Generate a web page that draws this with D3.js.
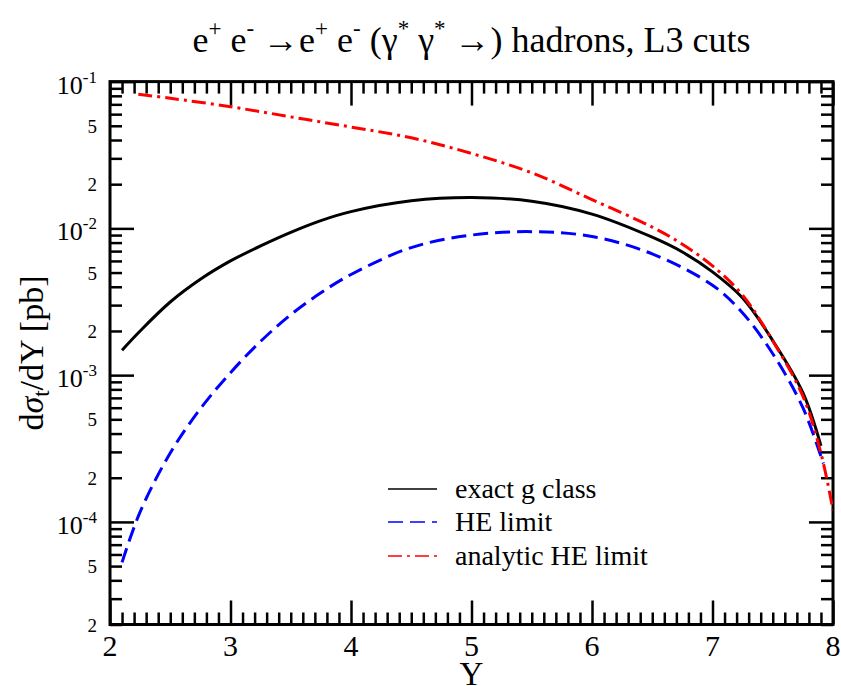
<!DOCTYPE html>
<html lang="en">
<head>
<meta charset="utf-8">
<title>dsigma/dY</title>
<script src="https://cdn.jsdelivr.net/npm/d3@7"></script>
<style>
  body { margin: 0; background: white; }
  svg text { font-family: "Liberation Serif", "Times New Roman", serif; fill: black; }
  .frame { fill: none; stroke: black; stroke-width: 3; }
  .axis path { display: none; }
  .axis line { stroke: black; stroke-width: 2.5; }
  .curve { fill: none; stroke-width: 3; }
</style>
</head>
<body>
<script>
// x grid (Y) and curves
var yExactX = [2.1, 2.25, 2.5, 2.75, 3.0, 3.25, 3.5, 3.75, 4.0, 4.5, 5.0, 5.5, 6.0, 6.5, 6.75, 7.0, 7.25, 7.5, 7.75, 7.9];
var exactVals = [1.48e-3, 2.0e-3, 3.15e-3, 4.5e-3, 6.0e-3, 7.6e-3, 9.4e-3, 1.13e-2, 1.30e-2, 1.54e-2, 1.62e-2, 1.53e-2, 1.25e-2, 8.7e-3, 6.9e-3, 5.05e-3, 3.35e-3, 1.72e-3, 7.6e-4, 3.3e-4];

var heX = [2.1, 2.25, 2.5, 2.75, 3.0, 3.25, 3.5, 3.75, 4.0, 4.5, 5.0, 5.5, 6.0, 6.5, 7.0, 7.25, 7.5, 7.75, 7.92];
var heVals = [5.3e-5, 1.17e-4, 2.95e-4, 5.9e-4, 1.04e-3, 1.7e-3, 2.58e-3, 3.64e-3, 4.85e-3, 7.4e-3, 9.0e-3, 9.5e-3, 8.8e-3, 6.7e-3, 4.1e-3, 2.65e-3, 1.4e-3, 6.0e-4, 2.5e-4];

var anX = [2.235, 2.5, 3.0, 3.5, 4.0, 4.5, 5.0, 5.5, 6.0, 6.5, 6.75, 7.0, 7.25, 7.5, 7.75, 7.9, 8.0];
var anVals = [8.2e-2, 7.7e-2, 6.74e-2, 5.75e-2, 4.9e-2, 4.14e-2, 3.24e-2, 2.39e-2, 1.57e-2, 1.02e-2, 7.8e-3, 5.55e-3, 3.5e-3, 1.71e-3, 7.2e-4, 2.94e-4, 1.2e-4];

var xTicks = [2, 3, 4, 5, 6, 7, 8];
var yDecades = [1e-1, 1e-2, 1e-3, 1e-4];
var yDecadeExp = ["-1", "-2", "-3", "-4"];
var yMinorLabeled = [5e-2, 2e-2, 5e-3, 2e-3, 5e-4, 2e-4, 5e-5, 2e-5];
var legendNames = ["exact g class", "HE limit", "analytic HE limit"];

var W = 841, H = 686;
var mL = 110, mR = 833, mT = 81.6, mB = 624.5;

var svg = d3.select("body").append("svg").attr("width", W).attr("height", H);

var x = d3.scaleLinear().domain([2, 8]).range([mL, mR]);
var y = d3.scaleLog().domain([2e-5, 1e-1]).range([mB, mT]);

// minor tick values
var xMinor = d3.range(20, 81).map(function(d) { return d / 10; }).filter(function(d) { return xTicks.indexOf(d) < 0; });
var yMinor = [];
[1e-5, 1e-4, 1e-3, 1e-2].forEach(function(dec) {
  for (var k = 2; k <= 9; k++) {
    var v = +(k * dec).toPrecision(3);
    if (v >= 2e-5 && v < 1e-1) yMinor.push(v);
  }
});

function addAxis(axis, tr) {
  svg.append("g").attr("class", "axis").attr("transform", tr).call(axis)
    .selectAll("text").remove();
}
// bottom / top
addAxis(d3.axisBottom(x).tickValues(xTicks).tickSize(-24).tickFormat(""), "translate(0," + mB + ")");
addAxis(d3.axisBottom(x).tickValues(xMinor).tickSize(-12).tickFormat(""), "translate(0," + mB + ")");
addAxis(d3.axisTop(x).tickValues(xTicks).tickSize(-24).tickFormat(""), "translate(0," + mT + ")");
addAxis(d3.axisTop(x).tickValues(xMinor).tickSize(-12).tickFormat(""), "translate(0," + mT + ")");
// left / right
addAxis(d3.axisLeft(y).tickValues(yDecades).tickSize(-24).tickFormat(""), "translate(" + mL + ",0)");
addAxis(d3.axisLeft(y).tickValues(yMinor).tickSize(-12).tickFormat(""), "translate(" + mL + ",0)");
addAxis(d3.axisRight(y).tickValues(yDecades).tickSize(-24).tickFormat(""), "translate(" + mR + ",0)");
addAxis(d3.axisRight(y).tickValues(yMinor).tickSize(-12).tickFormat(""), "translate(" + mR + ",0)");

// x tick labels
svg.selectAll(".xlab").data(xTicks).enter().append("text")
  .attr("x", function(d) { return x(d); })
  .attr("y", 656)
  .attr("text-anchor", "middle")
  .attr("font-size", 30)
  .text(function(d) { return d; });

// y decade labels 10^n
var dl = svg.selectAll(".ylab").data(yDecades).enter().append("text")
  .attr("x", 97)
  .attr("y", function(d) { return y(d) + 12; })
  .attr("text-anchor", "end")
  .attr("font-size", 26);
dl.append("tspan").text("10");
dl.append("tspan").attr("font-size", 17).attr("dy", -11).text(function(d, i) { return yDecadeExp[i]; });

svg.selectAll(".ymin").data(yMinorLabeled).enter().append("text")
  .attr("x", 97)
  .attr("y", function(d) { return y(d) + 7; })
  .attr("text-anchor", "end")
  .attr("font-size", 19)
  .text(function(d) { return String(d.toExponential()).charAt(0); });

// frame
svg.append("rect").attr("class", "frame")
  .attr("x", mL).attr("y", mT).attr("width", mR - mL).attr("height", mB - mT);

// curves
var line = d3.line()
  .x(function(d) { return x(d[0]); })
  .y(function(d) { return y(d[1]); })
  .curve(d3.curveCatmullRom.alpha(0.5));

function zip(a, b) { return a.map(function(v, i) { return [v, b[i]]; }); }

svg.append("clipPath").attr("id", "clip").append("rect")
  .attr("x", mL).attr("y", mT).attr("width", mR - mL).attr("height", mB - mT);

var g = svg.append("g").attr("clip-path", "url(#clip)");
g.append("path").attr("class", "curve").attr("stroke", "black")
  .attr("d", line(zip(yExactX, exactVals)));
g.append("path").attr("class", "curve").attr("stroke", "#0000ff")
  .attr("stroke-dasharray", "15,7")
  .attr("d", line(zip(heX, heVals)));
g.append("path").attr("class", "curve").attr("stroke", "#ff0000")
  .attr("stroke-dasharray", "14,5,3,5")
  .attr("d", line(zip(anX, anVals)));

// legend
var legColors = ["black", "#0000ff", "#ff0000"];
var legDash = [null, "15,7", "14,5,3,5"];
var legY = [489, 522, 556];
legendNames.forEach(function(n, i) {
  svg.append("line")
    .attr("x1", 388).attr("x2", 437).attr("y1", legY[i]).attr("y2", legY[i])
    .attr("stroke", legColors[i]).attr("stroke-width", 1.5)
    .attr("stroke-dasharray", legDash[i]);
  svg.append("text").attr("x", 455).attr("y", legY[i] + 9)
    .attr("font-size", 28).text(n);
});

// axis titles
svg.append("text").attr("x", (mL + mR) / 2).attr("y", 685)
  .attr("text-anchor", "middle").attr("font-size", 33).text("Y");

var yt = svg.append("text")
  .attr("transform", "translate(43," + ((mT + mB) / 2) + ") rotate(-90)")
  .attr("text-anchor", "middle").attr("font-size", 34);
yt.append("tspan").text("d");
yt.append("tspan").attr("font-style", "italic").text("σ");
yt.append("tspan").attr("font-size", 23).attr("dy", 6).text("t");
yt.append("tspan").attr("dy", -6).text("/dY [pb]");

// title
var tt = svg.append("text").attr("x", (mL + mR) / 2).attr("y", 52)
  .attr("text-anchor", "middle").attr("font-size", 36);
function sup(s) { tt.append("tspan").attr("font-size", 23).attr("dy", -16).text(s); }
function base(s) { tt.append("tspan").attr("dy", 16).text(s); }
tt.append("tspan").text("e");
sup("+"); base(" e"); sup("-"); base(" \u2192e"); sup("+"); base(" e"); sup("-");
base(" (\u03b3"); sup("*"); base(" \u03b3"); sup("*"); base(" \u2192) hadrons, L3 cuts");
</script>
</body>
</html>
